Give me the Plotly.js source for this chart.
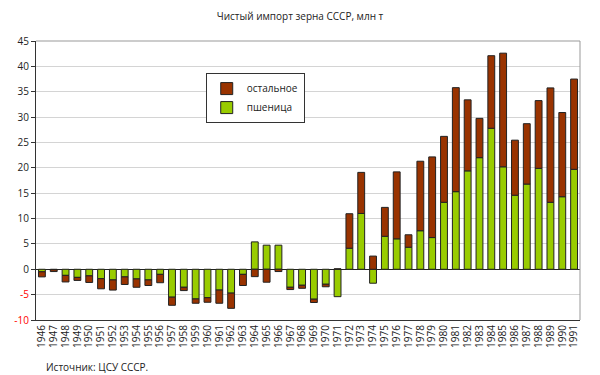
<!DOCTYPE html>
<html>
<head>
<meta charset="utf-8">
<script src="https://cdn.plot.ly/plotly-3.0.1.min.js"></script>
<style>html,body{margin:0;padding:0;background:#fff;}#chart{width:600px;height:375px;}</style>
</head>
<body>
<div id="chart"></div>
<script>
const years = ["1946","1947","1948","1949","1950","1951","1952","1953","1954","1955","1956","1957","1958","1959","1960","1961","1962","1963","1964","1965","1966","1967","1968","1969","1970","1971","1972","1973","1974","1975","1976","1977","1978","1979","1980","1981","1982","1983","1984","1985","1986","1987","1988","1989","1990","1991"];
const wheat = [-0.5,-0.1,-1.2,-1.6,-1.3,-1.85,-2.1,-1.5,-1.9,-2.1,-1.0,-5.5,-3.55,-5.85,-5.6,-4.1,-4.7,-1.0,5.4,4.75,4.75,-3.55,-3.15,-5.9,-2.95,-5.4,4.15,11.0,-2.75,6.5,6.0,4.35,7.6,6.25,13.2,15.3,19.4,22.0,27.8,20.2,14.6,16.8,19.9,13.2,14.3,19.7];
const other = [-1.0,-0.35,-1.3,-0.6,-1.3,-2.0,-2.0,-1.5,-1.65,-1.1,-1.65,-1.6,-0.65,-0.85,-0.9,-2.6,-3.0,-2.2,-1.45,-2.55,-0.45,-0.45,-0.6,-0.65,-0.5,0.1,6.8,8.1,2.6,5.7,13.2,2.45,13.7,15.9,13.0,20.5,14.0,7.75,14.3,22.4,10.85,11.9,13.35,22.55,16.6,17.8];
const yTickVals = [-10,-5,0,5,10,15,20,25,30,35,40,45];
const yTickLabels = ['<span style="color:#ff0000">-10</span>','<span style="color:#ff0000">-5</span>','0','5','10','15','20','25','30','35','40','45'];
const seriesNames = ["пшеница","остальное"];

const lineStyle = {color:'#222', width:1};
const data = [
  {type:'bar', x:years, y:wheat, name:seriesNames[0], marker:{color:'#99cc00', line:lineStyle}},
  {type:'bar', x:years, y:other, name:seriesNames[1], marker:{color:'#993300', line:lineStyle}}
];
const layout = {
  width:600, height:375,
  margin:{l:36, r:20, t:41, b:55},
  barmode:'relative',
  bargap:0.42,
  paper_bgcolor:'#fff', plot_bgcolor:'#fff',
  font:{family:'Open Sans, sans-serif', size:10, color:'#222'},
  title:{text:'Чистый импорт зерна СССР, млн т', x:0.5, xanchor:'center', y:0.955, yanchor:'middle', font:{size:10, color:'#222'}},
  showlegend:true,
  legend:{x:0.312, y:0.885, xanchor:'left', yanchor:'top', bgcolor:'#fff', bordercolor:'#333', borderwidth:1, traceorder:'reversed', font:{size:10}, itemwidth:30, tracegroupgap:0},
  xaxis:{type:'category', tickmode:'array', tickvals:years, ticktext:years, tickangle:-90, showgrid:false, showline:true, linecolor:'#333', linewidth:1, ticks:'', tickfont:{size:10}, automargin:false},
  yaxis:{range:[-10,45], tickmode:'array', tickvals:yTickVals, ticktext:yTickLabels, showgrid:true, gridcolor:'#d4d4d4', gridwidth:1, zeroline:true, zerolinecolor:'#222', zerolinewidth:1, showline:true, linecolor:'#333', linewidth:1, ticks:'outside', ticklen:4, tickcolor:'#333', tickfont:{size:10}, automargin:false},
  shapes:[
    {type:'line', xref:'paper', yref:'paper', x0:0, x1:1, y0:1, y1:1, line:{color:'#999', width:1}},
    {type:'line', xref:'paper', yref:'paper', x0:1, x1:1, y0:0, y1:1, line:{color:'#999', width:1}}
  ],
  annotations:[
    {text:'Источник: ЦСУ СССР.', xref:'paper', yref:'paper', x:0.015, y:-0.168, xanchor:'left', yanchor:'middle', showarrow:false, font:{size:10, color:'#222'}}
  ]
};
Plotly.newPlot('chart', data, layout, {displayModeBar:false, staticPlot:true});
</script>
</body>
</html>
